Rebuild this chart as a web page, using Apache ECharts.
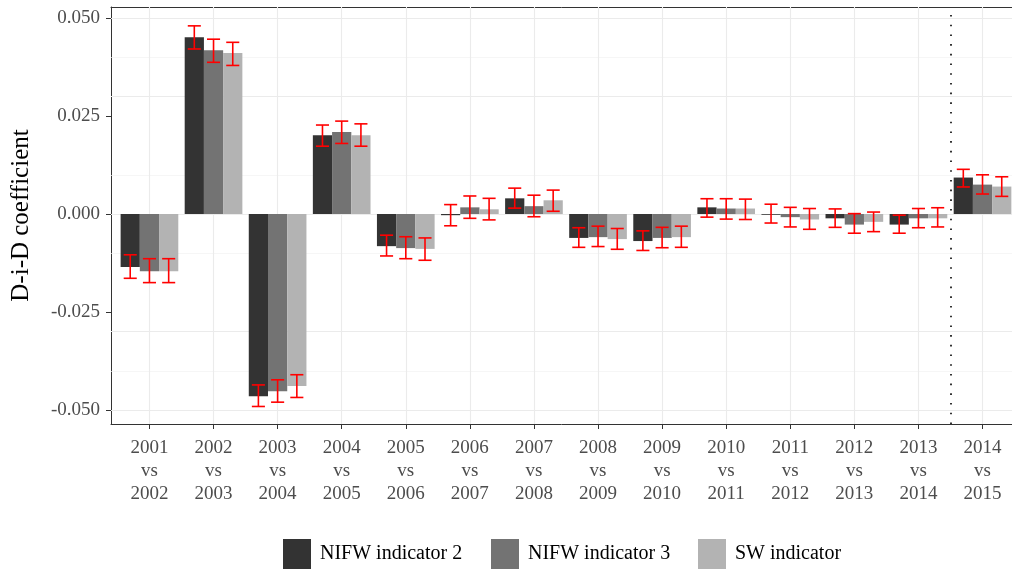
<!DOCTYPE html>
<html>
<head>
<meta charset="utf-8">
<script src="https://cdn.jsdelivr.net/npm/echarts@6/dist/echarts.min.js"></script>
<style>
html,body{margin:0;padding:0;background:#fff;}
#chart{width:1012px;height:571px;}
</style>
</head>
<body>
<div id="chart"></div>
<script>
var categories = ['2001\nvs\n2002','2002\nvs\n2003','2003\nvs\n2004','2004\nvs\n2005','2005\nvs\n2006','2006\nvs\n2007','2007\nvs\n2008','2008\nvs\n2009','2009\nvs\n2010','2010\nvs\n2011','2011\nvs\n2012','2012\nvs\n2013','2013\nvs\n2014','2014\nvs\n2015'];
var seriesNames = ['NIFW indicator 2','NIFW indicator 3','SW indicator'];

var nifw2 = [-0.0135, 0.0451, -0.0465, 0.0201, -0.0082, -0.0003, 0.0040, -0.0061, -0.0069, 0.0017, -0.0002, -0.0011, -0.0027, 0.0093];
var nifw2Low = [-0.0164, 0.0421, -0.0491, 0.0173, -0.0107, -0.0030, 0.0015, -0.0085, -0.0093, -0.0008, -0.0023, -0.0034, -0.0049, 0.0069];
var nifw2High = [-0.0104, 0.0480, -0.0436, 0.0227, -0.0054, 0.0024, 0.0066, -0.0035, -0.0043, 0.0039, 0.0025, 0.0013, -0.0003, 0.0114];

var nifw3 = [-0.0146, 0.0418, -0.0452, 0.0209, -0.0087, 0.0017, 0.0020, -0.0059, -0.0061, 0.0014, -0.0008, -0.0027, -0.0011, 0.0075];
var nifw3Low = [-0.0175, 0.0387, -0.0480, 0.0180, -0.0114, -0.0011, -0.0007, -0.0083, -0.0086, -0.0013, -0.0033, -0.0049, -0.0035, 0.0051];
var nifw3High = [-0.0114, 0.0446, -0.0423, 0.0237, -0.0058, 0.0046, 0.0048, -0.0031, -0.0034, 0.0039, 0.0017, 0.0001, 0.0014, 0.0100];

var sw = [-0.0146, 0.0411, -0.0439, 0.0201, -0.0089, 0.0012, 0.0035, -0.0064, -0.0059, 0.0014, -0.0014, -0.0020, -0.0011, 0.0070];
var swLow = [-0.0175, 0.0379, -0.0468, 0.0173, -0.0118, -0.0015, 0.0007, -0.0090, -0.0085, -0.0014, -0.0039, -0.0045, -0.0033, 0.0045];
var swHigh = [-0.0114, 0.0438, -0.0410, 0.0230, -0.0061, 0.0040, 0.0061, -0.0037, -0.0031, 0.0038, 0.0014, 0.0005, 0.0016, 0.0095];

var yTicks = [-0.05, -0.025, 0, 0.025, 0.05];
var yMinorGrid = [-0.0375, -0.0125, 0.0125, 0.0375];
var breakPosition = 12.5;

var FONT = '"Liberation Serif", "Times New Roman", serif';
var colors = ['#333333', '#737373', '#b3b3b3'];
var values = [nifw2, nifw3, sw];
var lows = [nifw2Low, nifw3Low, swLow];
var highs = [nifw2High, nifw3High, swHigh];
var xIdx = categories.map(function (c, i) { return i; });

var chart = echarts.init(document.getElementById('chart'), null, {renderer: 'canvas'});

var series = [];
var gridLines = [];
yTicks.forEach(function (v) { gridLines.push({yAxis: v, lineStyle: {color: '#ebebeb', width: 1.1, type: 'solid'}}); });
yMinorGrid.forEach(function (v) { gridLines.push({yAxis: v, lineStyle: {color: '#f2f2f2', width: 0.7, type: 'solid'}}); });
xIdx.forEach(function (v) { gridLines.push({xAxis: v, lineStyle: {color: '#ebebeb', width: 1.1, type: 'solid'}}); });
series.push({
  type: 'line', name: 'grid', data: [], z: 1, silent: true,
  markLine: {z: 1, silent: true, symbol: 'none', label: {show: false}, animation: false, data: gridLines}
});

for (var s = 0; s < 3; s++) {
  series.push({
    type: 'bar', name: seriesNames[s], z: 2,
    barGap: '0%', barCategoryGap: '10%',
    itemStyle: {color: colors[s]},
    data: xIdx.map(function (i) { return [i, values[s][i]]; })
  });
}

var errData = [];
for (var s2 = 0; s2 < 3; s2++) {
  for (var i = 0; i < categories.length; i++) {
    errData.push([i, lows[s2][i], highs[s2][i], s2 - 1]);
  }
}
series.push({
  type: 'custom', name: 'err', z: 4, silent: true,
  data: errData,
  encode: {x: 0, y: [1, 2]},
  renderItem: function (params, api) {
    var x = api.value(0), lo = api.value(1), hi = api.value(2), off = api.value(3);
    var band = api.size([1, 0])[0];
    var barW = band * 0.9 / 3;
    var p1 = api.coord([x, lo]);
    var p2 = api.coord([x, hi]);
    var cx = p1[0] + off * barW;
    var hw = barW * 0.34;
    var st = {stroke: '#ff0000', lineWidth: 1.6, fill: null};
    return {
      type: 'group',
      children: [
        {type: 'line', shape: {x1: cx, y1: p1[1], x2: cx, y2: p2[1]}, style: st},
        {type: 'line', shape: {x1: cx - hw, y1: p1[1], x2: cx + hw, y2: p1[1]}, style: st},
        {type: 'line', shape: {x1: cx - hw, y1: p2[1], x2: cx + hw, y2: p2[1]}, style: st}
      ]
    };
  }
});
series.push({
  type: 'line', name: 'break', data: [], z: 5, silent: true,
  markLine: {z: 5, silent: true, symbol: 'none', label: {show: false}, animation: false,
    data: [{xAxis: breakPosition, lineStyle: {color: '#000', width: 1.6, type: [1.6, 8.1]}}]}
});

function legend(idx, left) {
  return {
    data: [seriesNames[idx]], left: left, top: 539, orient: 'horizontal', padding: 0,
    itemWidth: 28, itemHeight: 30, icon: 'rect', selectedMode: false,
    textStyle: {fontFamily: FONT, fontSize: 20, color: '#000', padding: [0, 0, 0, 4]}
  };
}

var xMin = -0.6, xMax = 13.46;
var option = {
  animation: false,
  backgroundColor: '#fff',
  grid: {left: 111, top: 7, right: 0, height: 417, show: false, containLabel: false},
  legend: [legend(0, 283), legend(1, 491), legend(2, 698)],
  xAxis: [{
    type: 'value', min: xMin, max: xMax, position: 'bottom',
    axisLine: {show: true, onZero: false, lineStyle: {color: '#333333', width: 1}},
    axisTick: {show: true, length: 5, lineStyle: {color: '#333333', width: 1}, customValues: xIdx},
    axisLabel: {
      customValues: xIdx, margin: 13,
      fontFamily: FONT, fontSize: 19, color: '#4d4d4d', lineHeight: 23,
      formatter: function (v) { return categories[Math.round(v)]; }
    },
    splitLine: {show: false}
  }, {
    type: 'value', min: xMin, max: xMax, position: 'top',
    axisLine: {show: true, onZero: false, lineStyle: {color: '#333333', width: 1}},
    axisTick: {show: false}, axisLabel: {show: false}, splitLine: {show: false}
  }],
  yAxis: {
    type: 'value', min: -0.05357, max: 0.05281,
    name: 'D-i-D coefficient', nameLocation: 'middle', nameRotate: 90, nameGap: 77,
    nameTextStyle: {fontFamily: FONT, fontSize: 25, color: '#000'},
    axisLine: {show: true, onZero: false, lineStyle: {color: '#333333', width: 1}},
    axisTick: {show: true, length: 5, lineStyle: {color: '#333333', width: 1}, customValues: yTicks},
    axisLabel: {
      customValues: yTicks, margin: 11,
      fontFamily: FONT, fontSize: 19, color: '#4d4d4d',
      formatter: function (v) { return v.toFixed(3); }
    },
    splitLine: {show: false}
  },
  series: series
};
chart.setOption(option);
</script>
</body>
</html>
